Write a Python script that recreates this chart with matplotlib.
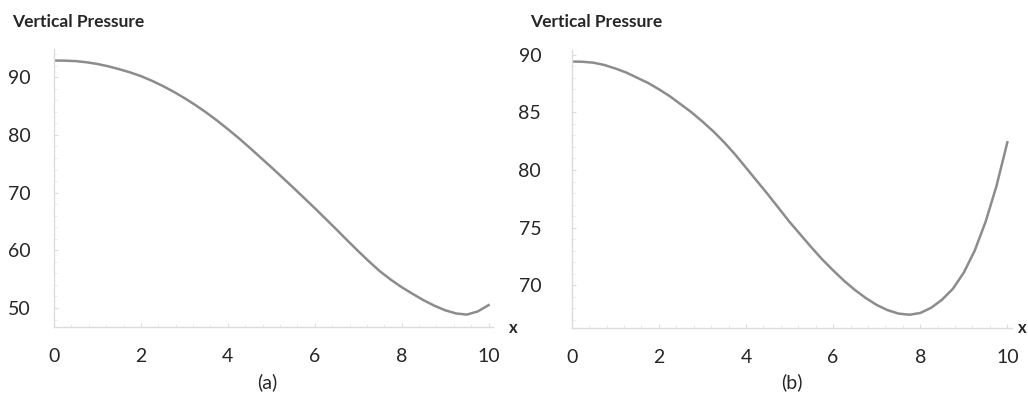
import numpy as np
import matplotlib.pyplot as plt
from matplotlib.ticker import MultipleLocator

plt.rcParams['font.family'] = ['Lato', 'DejaVu Sans']

# panel (a)
xa = [0, 0.25, 0.5, 0.75, 1.0, 1.25, 1.5, 1.75, 2.0, 2.25, 2.5, 2.75, 3.0, 3.25,
      3.5, 3.75, 4.0, 4.25, 4.5, 4.75, 5.0, 5.25, 5.5, 5.75, 6.0, 6.25, 6.5,
      6.75, 7.0, 7.25, 7.5, 7.75, 8.0, 8.25, 8.5, 8.75, 9.0, 9.25, 9.5, 9.75, 10.0]
ya = [92.9, 92.88, 92.8, 92.6, 92.3, 91.9, 91.4, 90.85, 90.2, 89.4, 88.5, 87.5,
      86.4, 85.2, 83.9, 82.5, 81.0, 79.45, 77.8, 76.1, 74.4, 72.65, 70.9, 69.1,
      67.3, 65.45, 63.6, 61.7, 59.85, 58.05, 56.35, 54.9, 53.6, 52.45, 51.35,
      50.4, 49.6, 49.05, 48.85, 49.4, 50.5]

# panel (b)
xb = [0, 0.25, 0.5, 0.75, 1.0, 1.25, 1.5, 1.75, 2.0, 2.25, 2.5, 2.75, 3.0, 3.25,
      3.5, 3.75, 4.0, 4.25, 4.5, 4.75, 5.0, 5.25, 5.5, 5.75, 6.0, 6.25, 6.5,
      6.75, 7.0, 7.25, 7.5, 7.75, 8.0, 8.25, 8.5, 8.75, 9.0, 9.25, 9.5, 9.75, 10.0]
yb = [89.4, 89.38, 89.3, 89.1, 88.8, 88.45, 88.0, 87.55, 87.0, 86.4, 85.7, 85.0,
      84.2, 83.35, 82.4, 81.35, 80.2, 79.05, 77.9, 76.7, 75.5, 74.4, 73.3, 72.25,
      71.3, 70.4, 69.6, 68.9, 68.3, 67.85, 67.55, 67.45, 67.6, 68.05, 68.75,
      69.7, 71.1, 73.0, 75.5, 78.6, 82.4]

xticks = [0, 2, 4, 6, 8, 10]
yticks_a = [50, 60, 70, 80, 90]
yticks_b = [70, 75, 80, 85, 90]

W, H = 1028, 397
fig = plt.figure(figsize=(W / 100, H / 100), dpi=100)

line_col = '#8c8c8c'
axis_col = '#dcdcdc'
text_col = '#262626'


def setup(ax, yticks, ylim, xlim, yminor, ypad):
    ax.set_xlim(*xlim)
    ax.set_ylim(*ylim)
    for s in ['top', 'right']:
        ax.spines[s].set_visible(False)
    for s in ['left', 'bottom']:
        ax.spines[s].set_color(axis_col)
        ax.spines[s].set_linewidth(1.0)
    ax.set_xticks(xticks)
    ax.set_yticks(yticks)
    ax.xaxis.set_minor_locator(MultipleLocator(0.4))
    ax.yaxis.set_minor_locator(MultipleLocator(yminor))
    ax.tick_params(axis='x', which='major', direction='in', length=3, color=axis_col,
                   labelsize=14, labelcolor=text_col, pad=15)
    ax.tick_params(axis='y', which='major', direction='in', length=3, color=axis_col,
                   labelsize=14, labelcolor=text_col, pad=ypad)
    ax.tick_params(which='minor', direction='in', length=2, color='#e6e6e6')


# (a)
ax1 = fig.add_axes([54 / W, 1 - 327 / H, 439 / W, 278 / H])
ax1.plot(xa, ya, color=line_col, lw=1.8)
setup(ax1, yticks_a, (46.7, 94.9), (0, 10.1), 2, 17)
fig.text(12 / W, 1 - 22 / H, 'Vertical Pressure', fontsize=12.5, fontweight='bold',
         color=text_col, va='center')
fig.text(513 / W, 1 - 328 / H, 'x', fontsize=12, fontweight='bold', color=text_col,
         ha='center', va='center')
fig.text(267 / W, 1 - 382 / H, '(a)', fontsize=14, color=text_col, ha='center', va='center')

# (b)
ax2 = fig.add_axes([571.7 / W, 1 - 328 / H, 440 / W, 278 / H])
ax2.plot(xb, yb, color=line_col, lw=1.8)
setup(ax2, yticks_b, (66.3, 90.4), (0, 10.1), 1, 22)
fig.text(530 / W, 1 - 22 / H, 'Vertical Pressure', fontsize=12.5, fontweight='bold',
         color=text_col, va='center')
fig.text(1018 / W, 1 - 328 / H, 'x', fontsize=12, fontweight='bold', color=text_col,
         ha='left', va='center')
fig.text(792 / W, 1 - 382 / H, '(b)', fontsize=14, color=text_col, ha='center', va='center')

fig.savefig('out.png', dpi=100)
